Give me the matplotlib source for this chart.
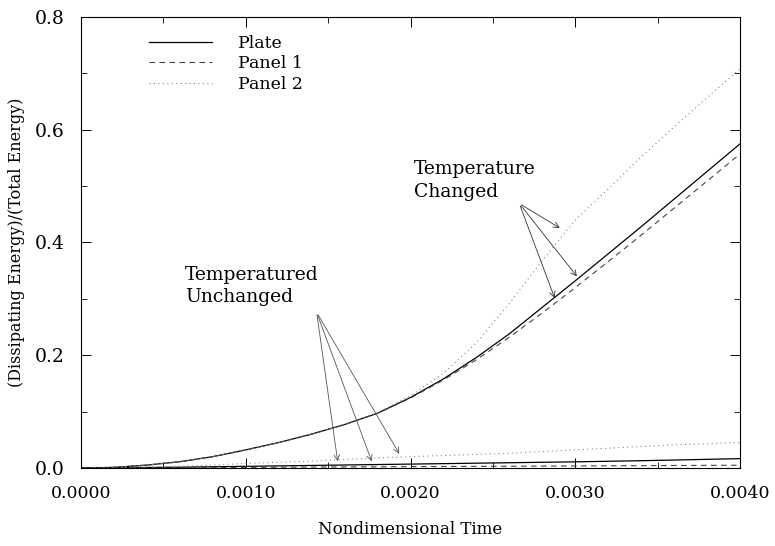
import numpy as np
import matplotlib
matplotlib.use("Agg")
import matplotlib.pyplot as plt
from matplotlib.ticker import MultipleLocator

# nondimensional time samples
t = [0.0, 0.0002, 0.0004, 0.0006, 0.0008, 0.0010, 0.0012, 0.0014, 0.0016, 0.0018,
     0.0020, 0.0022, 0.0024, 0.0026, 0.0028, 0.0030, 0.0032, 0.0034, 0.0036, 0.0038, 0.0040]

# temperature changed
plate_tc = [0.0, 0.001, 0.005, 0.011, 0.020, 0.032, 0.045, 0.060, 0.077, 0.097,
            0.125, 0.158, 0.196, 0.238, 0.285, 0.332, 0.380, 0.428, 0.477, 0.526, 0.575]
panel1_tc = [0.0, 0.001, 0.005, 0.011, 0.020, 0.032, 0.045, 0.060, 0.077, 0.097,
             0.124, 0.156, 0.192, 0.232, 0.275, 0.320, 0.366, 0.413, 0.461, 0.509, 0.557]
panel2_tc = [0.0, 0.001, 0.005, 0.011, 0.020, 0.032, 0.045, 0.060, 0.077, 0.098,
             0.128, 0.168, 0.222, 0.292, 0.368, 0.440, 0.495, 0.552, 0.605, 0.657, 0.708]

# temperature unchanged
plate_tu = [0.0, 0.0003, 0.0008, 0.0013, 0.002, 0.0028, 0.0036, 0.0044, 0.0052, 0.006,
            0.0068, 0.0076, 0.0084, 0.0092, 0.010, 0.0108, 0.0118, 0.0128, 0.0140, 0.0152, 0.0165]
panel1_tu = [0.0, 0.0001, 0.0003, 0.0005, 0.0008, 0.0010, 0.0013, 0.0015, 0.0018, 0.0020,
             0.0023, 0.0025, 0.0028, 0.0030, 0.0033, 0.0035, 0.0038, 0.0040, 0.0043, 0.0045, 0.0048]
panel2_tu = [0.0, 0.0005, 0.0015, 0.003, 0.005, 0.008, 0.010, 0.012, 0.015, 0.018,
             0.020, 0.022, 0.024, 0.026, 0.029, 0.032, 0.035, 0.038, 0.041, 0.043, 0.045]

xticks = [0.0, 0.001, 0.002, 0.003, 0.004]
xticklabels = ["0.0000", "0.0010", "0.0020", "0.0030", "0.0040"]
yticks = [0.0, 0.2, 0.4, 0.6, 0.8]
yticklabels = ["0.0", "0.2", "0.4", "0.6", "0.8"]

plt.rcParams['font.family'] = ['DejaVu Serif']

fig = plt.figure(figsize=(7.75, 5.46), dpi=100)
ax = fig.add_axes([0.1045, 0.143, 0.8505, 0.826])

ax.plot(t, plate_tc, color='black', lw=0.9, ls='-', label='Plate')
ax.plot(t, panel1_tc, color='#444444', lw=0.8, ls=(0, (5, 4)), label='Panel 1')
ax.plot(t, panel2_tc, color='#888888', lw=0.8, ls=(0, (1, 3)), label='Panel 2')
ax.plot(t, plate_tu, color='black', lw=0.9, ls='-')
ax.plot(t, panel1_tu, color='#444444', lw=0.8, ls=(0, (5, 4)))
ax.plot(t, panel2_tu, color='#888888', lw=0.8, ls=(0, (1, 3)))

ax.set_xlim(0, 0.004)
ax.set_ylim(0, 0.8)
ax.set_xticks(xticks)
ax.set_xticklabels(xticklabels, fontsize=12.5)
ax.set_yticks(yticks)
ax.set_yticklabels(yticklabels, fontsize=13.5)
ax.xaxis.set_minor_locator(MultipleLocator(0.0005))
ax.yaxis.set_minor_locator(MultipleLocator(0.1))
ax.tick_params(which='both', direction='in', top=True, right=True)
ax.tick_params(axis='x', pad=12)
ax.tick_params(axis='y', pad=12)
ax.tick_params(which='major', length=7, width=0.7)
ax.tick_params(which='minor', length=4, width=0.6)
for s in ax.spines.values():
    s.set_linewidth(0.8)

ax.set_xlabel("Nondimensional Time", fontsize=12, labelpad=14)
ax.set_ylabel("(Dissipating Energy)/(Total Energy)", fontsize=11.5, labelpad=7)

leg = ax.legend(loc='upper left', bbox_to_anchor=(0.08, 0.995), frameon=False,
                fontsize=12.5, handlelength=3.6, handletextpad=1.5, labelspacing=0.2)

# annotations, temperature changed
start_c = (0.00266, 0.469)
for end in [(0.00292, 0.423), (0.00302, 0.336), (0.00288, 0.297)]:
    ax.annotate("", xy=end, xytext=start_c,
                arrowprops=dict(arrowstyle='->', color='#333333', lw=0.6))
ax.text(0.00202, 0.51, "Temperature\nChanged", fontsize=13.5, ha='left', va='center',
        linespacing=1.3)

# annotations, temperature unchanged
start_u = (0.00143, 0.276)
for end in [(0.00156, 0.007), (0.00177, 0.007), (0.00194, 0.021)]:
    ax.annotate("", xy=end, xytext=start_u,
                arrowprops=dict(arrowstyle='->', color='#555555', lw=0.6))
ax.text(0.00063, 0.322, "Temperatured\nUnchanged", fontsize=13.5, ha='left', va='center',
        linespacing=1.3)

fig.savefig("out.png", dpi=100)
